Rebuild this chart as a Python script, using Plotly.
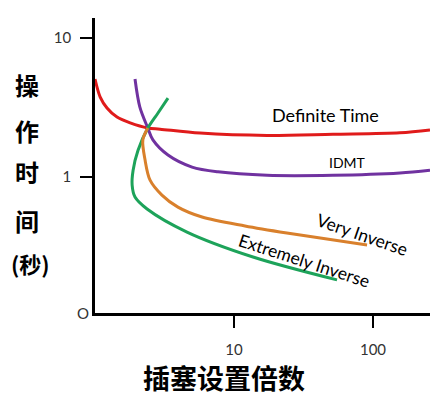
import plotly.graph_objects as go

# 各曲线的数据点
red_x = [1.0, 1.09, 1.22, 1.44, 1.79, 2.40, 2.94, 5.7, 17.3, 51.5, 156, 257]
red_y = [5.07, 3.76, 3.14, 2.70, 2.45, 2.25, 2.21, 2.07, 1.99, 2.03, 2.08, 2.18]

purple_x = [1.94, 2.10, 2.40, 2.61, 3.35, 4.99, 7.67, 17.3, 51.5, 156, 257]
purple_y = [5.07, 3.20, 2.25, 1.85, 1.44, 1.18, 1.09, 1.03, 1.03, 1.07, 1.12]

green_x = [3.35, 2.84, 2.40, 2.04, 1.88, 1.85, 1.94, 2.37, 4.59, 13.7, 55.1]
green_y = [3.70, 2.89, 2.25, 1.56, 1.12, 0.875, 0.718, 0.589, 0.402, 0.266, 0.182]

orange_x = [2.40, 2.21, 2.29, 2.49, 3.03, 3.95, 5.89, 12.0, 24.0, 90.6]
orange_y = [2.25, 1.85, 1.33, 0.95, 0.742, 0.608, 0.516, 0.445, 0.396, 0.324]

x_ticks = [10, 100]
y_ticks = [1, 10]
y_title = ['操', '作', '时', '间', '(秒)']
x_title = '插塞设置倍数'

curves = [
    (red_x, red_y, '#e01b1b'),
    (purple_x, purple_y, '#7032a0'),
    (green_x, green_y, '#1da35a'),
    (orange_x, orange_y, '#d9802c'),
]

fig = go.Figure()
for xs, ys, color in curves:
    fig.add_trace(go.Scatter(
        x=xs, y=ys, mode='lines',
        line=dict(color=color, width=3, shape='spline', smoothing=0.9),
        hoverinfo='skip', showlegend=False
    ))

x_range = [0, 2.41]
y_range = [-0.978, 1.144]
tick_font = dict(family='Lato', size=15, color='#333333')

# 页面自带 8px 边距，所以画布尺寸与边距都相应减小
fig.update_layout(
    width=439, height=395,
    margin=dict(l=87, r=17, t=10, b=90),
    plot_bgcolor='white', paper_bgcolor='white',
    xaxis=dict(
        type='log', range=x_range, tickvals=x_ticks, ticktext=['10', '100'],
        ticks='outside', ticklen=12, tickwidth=2, tickcolor='black',
        showline=True, linewidth=2.5, linecolor='black',
        showgrid=False, zeroline=False, tickfont=tick_font,
        ticklabelstandoff=9
    ),
    yaxis=dict(
        type='log', range=y_range, tickvals=y_ticks, ticktext=['1', '10'],
        ticks='outside', ticklen=12, tickwidth=2, tickcolor='black',
        showline=True, linewidth=2.5, linecolor='black',
        showgrid=False, zeroline=False, tickfont=tick_font,
        ticklabelstandoff=6
    ),
    xaxis2=dict(
        type='log', range=x_range, tickvals=x_ticks, overlaying='x',
        anchor='y', side='bottom',
        ticks='inside', ticklen=8, tickwidth=2, tickcolor='black',
        showticklabels=False, showgrid=False, zeroline=False, showline=False
    ),
    yaxis2=dict(
        type='log', range=y_range, tickvals=y_ticks, overlaying='y',
        anchor='x', side='left',
        ticks='inside', ticklen=8, tickwidth=2, tickcolor='black',
        showticklabels=False, showgrid=False, zeroline=False, showline=False
    ),
)

# 曲线标签
labels = [
    ('Definite Time', 1.655, 0.446, 18, 0),
    ('IDMT', 1.813, 0.108, 14, 0),
    ('Very Inverse', 1.921, -0.41, 17.5, 19),
    ('Extremely Inverse', 1.504, -0.597, 17.5, 18),
]
for text, lx, ly, size, angle in labels:
    fig.add_annotation(
        x=lx, y=ly, xref='x', yref='y', text=text, showarrow=False,
        textangle=angle, font=dict(family='Lato', size=size, color='black')
    )

# 原点
fig.add_annotation(
    x=0, y=0, xref='paper', yref='paper', text='O', showarrow=False,
    xanchor='right', yanchor='middle', xshift=-4,
    font=dict(family='Lato', size=15, color='#333333')
)

# 纵轴标题（竖排）
title_pos = [(-0.203, 0.773), (-0.203, 0.620), (-0.203, 0.478),
             (-0.203, 0.315), (-0.193, 0.169)]
for ch, (px, py) in zip(y_title, title_pos):
    fig.add_annotation(
        x=px, y=py, xref='paper', yref='paper', text='<b>' + ch + '</b>',
        showarrow=False, xanchor='center', yanchor='middle',
        font=dict(family='Noto Sans CJK SC', size=24 if len(ch) == 1 else 22,
                  color='black')
    )

# 横轴标题
fig.add_annotation(
    x=0.385, y=-0.217, xref='paper', yref='paper', text='<b>' + x_title + '</b>',
    showarrow=False, xanchor='center', yanchor='middle',
    font=dict(family='Noto Sans CJK SC', size=27, color='black')
)

fig.write_html('out.html')
